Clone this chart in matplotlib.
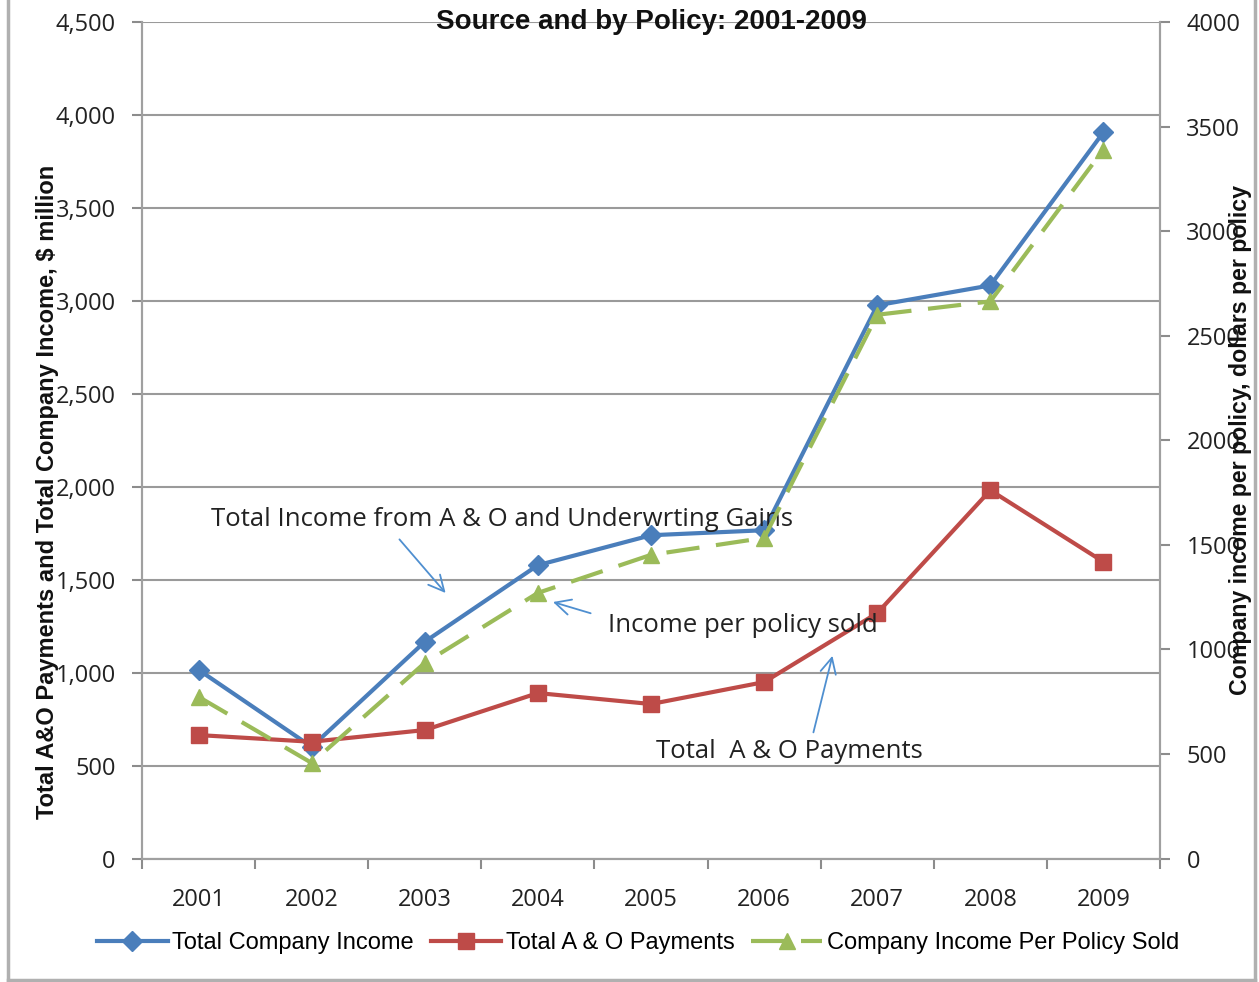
import matplotlib
matplotlib.use("Agg")
import matplotlib.pyplot as plt
from matplotlib.ticker import FixedLocator, FuncFormatter
from matplotlib.lines import Line2D

# Data
years = ["2001", "2002", "2003", "2004", "2005", "2006", "2007", "2008", "2009"]
total_income = [1015, 601, 1166, 1578, 1739, 1766, 2976, 3083, 3907]      # $ million, left axis
ao_payments = [664, 628, 691, 890, 831, 949, 1320, 1981, 1596]            # $ million, left axis
income_per_policy = [773, 457, 935, 1270, 1452, 1533, 2600, 2664, 3390]   # dollars per policy, right axis

left_ticks = [0, 500, 1000, 1500, 2000, 2500, 3000, 3500, 4000, 4500]
right_ticks = [0, 500, 1000, 1500, 2000, 2500, 3000, 3500, 4000]

blue = "#4A7EBB"
red = "#BE4B48"
green = "#9BBB59"
grey = "#8C8C8C"
arrow_blue = "#4F8FD0"

narrow = ["Liberation Sans", "DejaVu Sans"]
plain = ["Open Sans", "DejaVu Sans"]

W, H = 1259, 982
fig = plt.figure(figsize=(W / 100, H / 100), dpi=100)
ax = fig.add_axes([142 / W, 1 - 858.5 / H, (1160 - 142) / W, (858.5 - 22) / H])
ax2 = ax.twinx()

x = list(range(1, len(years) + 1))

ax.plot(x, total_income, color=blue, lw=3, marker="D", ms=10, label="Total Company Income", zorder=3)
ax.plot(x, ao_payments, color=red, lw=3, marker="s", ms=11, label="Total A & O Payments", zorder=4)
ax2.plot(x, income_per_policy, color=green, lw=3, marker="^", ms=12, dashes=(8, 4),
         label="Company Income Per Policy Sold", zorder=3)

ax.set_xlim(0.5, len(years) + 0.5)
ax.set_ylim(0, 4500)
ax2.set_ylim(0, 4000)

# x axis: ticks between categories, labels at centres
ax.xaxis.set_major_locator(FixedLocator([i + 0.5 for i in range(len(years) + 1)]))
ax.xaxis.set_minor_locator(FixedLocator(x))
ax.xaxis.set_major_formatter(FuncFormatter(lambda v, p: ""))
ax.xaxis.set_minor_formatter(FuncFormatter(lambda v, p: years[int(round(v)) - 1]))
ax.tick_params(axis="x", which="major", length=7, width=1.5, color=grey)
ax.tick_params(axis="x", which="minor", length=0, pad=21, labelsize=17, labelcolor="#222222")

ax.set_yticks(left_ticks)
ax.yaxis.set_major_formatter(FuncFormatter(lambda v, p: "{:,.0f}".format(v)))
ax.tick_params(axis="y", length=7, width=1.5, color=grey, pad=12, labelsize=17, labelcolor="#222222")
ax.grid(axis="y", color="#9A9A9A", lw=1.5)
ax.set_axisbelow(True)

ax2.set_yticks(right_ticks)
ax2.tick_params(axis="y", length=7, width=1.5, color=grey, pad=12, labelsize=17, labelcolor="#222222")

for a in (ax, ax2):
    for lab in a.get_xticklabels(which="both") + a.get_yticklabels():
        lab.set_family(plain)
    a.spines["top"].set_visible(False)
    for s in ("left", "right", "bottom"):
        a.spines[s].set_color("#A0A0A0")
        a.spines[s].set_linewidth(1.5)

# Title (first line is cut off in the reference)
fig.text(651 / W, 1 - 22 / H, "Source and by Policy: 2001-2009", ha="center", va="center",
         fontsize=20, fontweight="bold", family=narrow, color="#111111")

# Axis titles
fig.text(48 / W, 1 - 492 / H, "Total A&O Payments and Total Company Income, $ million", rotation=90,
         ha="center", va="center", fontsize=17, fontweight="bold", family=narrow, color="#111111")
fig.text(1240 / W, 1 - 440 / H, "Company income per policy, dollars per policy", rotation=90,
         ha="center", va="center", fontsize=16.7, fontweight="bold", family=narrow, color="#111111")

# Annotations with thin arrows
arrow = dict(arrowstyle="->", color=arrow_blue, lw=1.3, mutation_scale=28)
ax.annotate("", xy=(3.2, 1417), xytext=(2.76, 1728), arrowprops=arrow)
ax.text(1.11, 1825, "Total Income from A & O and Underwrting Gains", fontsize=18.5, family=plain,
        va="center", ha="left", color="#222222")
ax.annotate("", xy=(4.11, 1384), xytext=(4.49, 1315), arrowprops=arrow)
ax.text(4.62, 1255, "Income per policy sold", fontsize=18.5, family=plain, va="center", ha="left",
        color="#222222", zorder=5)
ax.annotate("", xy=(6.61, 1105), xytext=(6.43, 664), arrowprops=arrow)
ax.text(5.045, 573, "Total  A & O Payments", fontsize=18.5, family=plain, va="center", ha="left",
        color="#222222")

# Legend
h1, l1 = ax.get_legend_handles_labels()
h2, l2 = ax2.get_legend_handles_labels()
fig.legend(h1 + h2, l1 + l2, loc="center", bbox_to_anchor=(638 / W, 1 - 943 / H), ncol=3,
           frameon=False, prop={"family": narrow, "size": 17}, handlelength=3.0,
           handletextpad=0.2, columnspacing=0.7)

# Outer frame of the chart area
for xs, ys in (([8 / W, 8 / W], [0.001, 1]), ([1255 / W, 1255 / W], [0.001, 1]),
               ([8 / W, 1255 / W], [0.002, 0.002])):
    fig.add_artist(Line2D(xs, ys, transform=fig.transFigure, color="#B0B0B0", lw=2.5))

fig.savefig("out.png", dpi=100)
